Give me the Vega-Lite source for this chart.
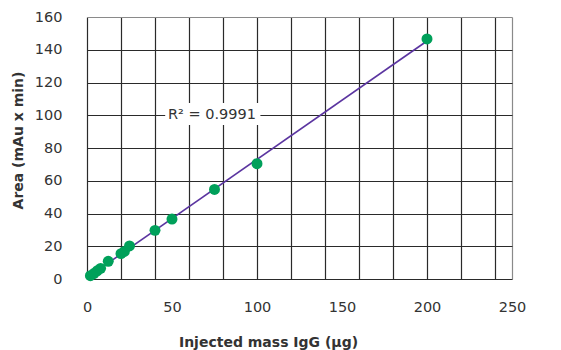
{
  "$schema": "https://vega.github.io/schema/vega-lite/v6.json",
  "autosize": "none",
  "width": 425,
  "height": 262,
  "padding": {"left": 87, "top": 17, "right": 49, "bottom": 71},
  "background": "white",
  "config": {
    "view": {"stroke": null},
    "font": "DejaVu Sans",
    "axis": {"labelFont": "DejaVu Sans", "titleFont": "DejaVu Sans"}
  },
  "datasets": {
    "pts": [
      {"mass": 2, "area": 2},
      {"mass": 4, "area": 3.3},
      {"mass": 6, "area": 5},
      {"mass": 8, "area": 6.5},
      {"mass": 12.5, "area": 10.8},
      {"mass": 20, "area": 15.5},
      {"mass": 22, "area": 16.8},
      {"mass": 25, "area": 20.2},
      {"mass": 40, "area": 29.7},
      {"mass": 50, "area": 36.6},
      {"mass": 75, "area": 54.7},
      {"mass": 100, "area": 70.4},
      {"mass": 200, "area": 146.6}
    ],
    "note": [
      {"mass": 46, "mass2": 102, "area": 94, "area2": 107.5, "xc": 73.5, "yc": 100.3, "label": "R² = 0.9991"}
    ]
  },
  "encoding": {
    "x": {
      "field": "mass", "type": "quantitative",
      "scale": {"domain": [0, 250], "nice": false, "zero": true},
      "axis": {
        "values": [0, 20, 40, 50, 60, 80, 100, 120, 140, 150, 160, 180, 200, 220, 240, 250],
        "labelExpr": "datum.value % 50 === 0 ? datum.label : ''",
        "labelOverlap": false,
        "labelFlush": false,
        "grid": true,
        "gridColor": {"condition": {"test": "datum.value === 250", "value": "#8a8a8a"}, "value": "#2a2a2a"},
        "gridOpacity": {"condition": {"test": "datum.value % 20 !== 0 && datum.value !== 250", "value": 0}, "value": 1},
        "gridWidth": 1.2,
        "ticks": false, "domain": false,
        "labelFontSize": 14.5, "labelColor": "#333333", "labelPadding": 21, "labelDx": -4,
        "title": "Injected mass IgG (µg)", "titleFontSize": 14, "titleFontWeight": "bold",
        "titleColor": "#333333", "titlePadding": 22, "titleX": 181, "titleAlign": "center", "titleAnchor": "start"
      }
    },
    "y": {
      "field": "area", "type": "quantitative",
      "scale": {"domain": [0, 160], "nice": false},
      "axis": {
        "values": [0, 20, 40, 60, 80, 100, 120, 140, 160],
        "labelOverlap": false,
        "labelFlush": false,
        "grid": true,
        "gridColor": {"condition": {"test": "datum.value === 160", "value": "#8a8a8a"}, "value": "#2a2a2a"},
        "gridWidth": 1.2, "gridOpacity": 1,
        "ticks": false, "domain": false,
        "labelFontSize": 14.5, "labelColor": "#333333", "labelPadding": 25, "labelDy": 2,
        "title": "Area (mAu x min)", "titleFontSize": 14, "titleFontWeight": "bold",
        "titleColor": "#333333", "titlePadding": 9, "titleY": 123, "titleAlign": "center", "titleAnchor": "start"
      }
    }
  },
  "layer": [
    {
      "data": {"name": "note"},
      "mark": {"type": "rect", "color": "white"},
      "encoding": {
        "x2": {"field": "mass2"},
        "y2": {"field": "area2"}
      }
    },
    {
      "data": {"name": "note"},
      "mark": {"type": "text", "fontSize": 14.5, "color": "#333333", "font": "DejaVu Sans"},
      "encoding": {
        "x": {"field": "xc", "type": "quantitative"},
        "y": {"field": "yc", "type": "quantitative"},
        "text": {"field": "label"}
      }
    },
    {
      "data": {"name": "pts"},
      "transform": [{"regression": "area", "on": "mass"}],
      "mark": {"type": "line", "color": "#5b35a0", "strokeWidth": 1.6},
      "encoding": {}
    },
    {
      "data": {"name": "pts"},
      "mark": {"type": "circle", "color": "#00a05a", "opacity": 1, "size": 120},
      "encoding": {}
    }
  ]
}
